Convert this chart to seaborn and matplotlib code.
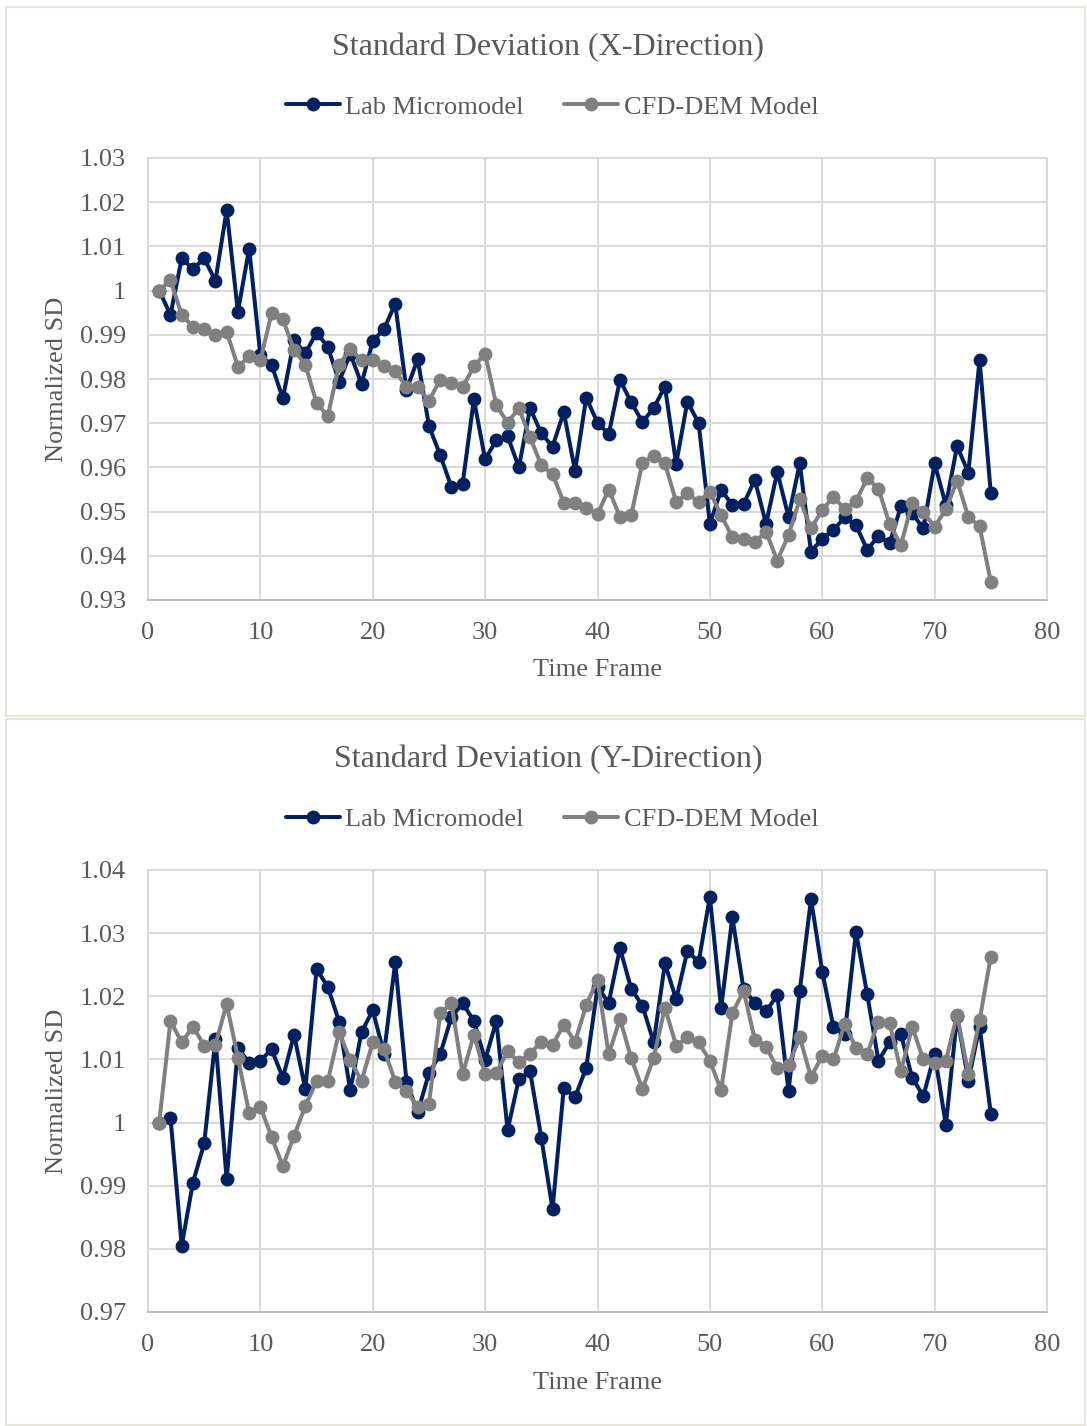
import numpy as np
import pandas as pd
import matplotlib
matplotlib.use("Agg")
import matplotlib.pyplot as plt
from matplotlib.patches import Rectangle
from matplotlib.ticker import FuncFormatter, MultipleLocator
import seaborn as sns

# ---------------- data ----------------
frames = list(range(1, 76))

lab_x = [1.0000, 0.9945, 1.0073, 1.0049, 1.0073, 1.0022, 1.0182, 0.9952, 1.0095, 0.9854,
         0.9832, 0.9756, 0.9888, 0.9858, 0.9905, 0.9873, 0.9794, 0.9857, 0.9789, 0.9886,
         0.9913, 0.9970, 0.9775, 0.9845, 0.9694, 0.9628, 0.9556, 0.9563, 0.9754, 0.9618,
         0.9662, 0.9671, 0.9600, 0.9734, 0.9677, 0.9647, 0.9725, 0.9592, 0.9758, 0.9701,
         0.9675, 0.9798, 0.9747, 0.9703, 0.9734, 0.9783, 0.9608, 0.9749, 0.9700, 0.9472,
         0.9549, 0.9515, 0.9517, 0.9572, 0.9472, 0.9590, 0.9488, 0.9609, 0.9409, 0.9439,
         0.9458, 0.9488, 0.9469, 0.9414, 0.9444, 0.9429, 0.9512, 0.9496, 0.9462, 0.9609,
         0.9515, 0.9648, 0.9588, 0.9843, 0.9541]

cfd_x = [1.0000, 1.0024, 0.9945, 0.9918, 0.9913, 0.9900, 0.9907, 0.9828, 0.9851, 0.9842,
         0.9949, 0.9935, 0.9866, 0.9832, 0.9746, 0.9716, 0.9832, 0.9867, 0.9842, 0.9843,
         0.9829, 0.9817, 0.9783, 0.9781, 0.9751, 0.9798, 0.9792, 0.9781, 0.9829, 0.9857,
         0.9741, 0.9701, 0.9734, 0.9668, 0.9605, 0.9585, 0.9520, 0.9519, 0.9509, 0.9494,
         0.9550, 0.9488, 0.9492, 0.9611, 0.9626, 0.9609, 0.9522, 0.9541, 0.9522, 0.9545,
         0.9492, 0.9442, 0.9438, 0.9432, 0.9454, 0.9389, 0.9447, 0.9528, 0.9462, 0.9503,
         0.9534, 0.9505, 0.9524, 0.9575, 0.9552, 0.9471, 0.9424, 0.9520, 0.9498, 0.9466,
         0.9505, 0.9570, 0.9488, 0.9467, 0.9341]

lab_y = [1.0000, 1.0008, 0.9805, 0.9905, 0.9967, 1.0132, 0.9910, 1.0118, 1.0095, 1.0098,
         1.0116, 1.0071, 1.0139, 1.0053, 1.0243, 1.0215, 1.0160, 1.0051, 1.0143, 1.0178,
         1.0109, 1.0254, 1.0065, 1.0016, 1.0078, 1.0108, 1.0167, 1.0189, 1.0161, 1.0099,
         1.0161, 0.9988, 1.0069, 1.0081, 0.9976, 0.9863, 1.0055, 1.0040, 1.0087, 1.0214,
         1.0190, 1.0276, 1.0212, 1.0185, 1.0127, 1.0252, 1.0195, 1.0272, 1.0254, 1.0358,
         1.0181, 1.0325, 1.0211, 1.0190, 1.0176, 1.0202, 1.0050, 1.0209, 1.0354, 1.0239,
         1.0151, 1.0140, 1.0302, 1.0203, 1.0098, 1.0127, 1.0140, 1.0071, 1.0042, 1.0109,
         0.9996, 1.0169, 1.0066, 1.0152, 1.0014]

cfd_y = [1.0000, 1.0161, 1.0127, 1.0152, 1.0122, 1.0123, 1.0188, 1.0103, 1.0015, 1.0025,
         0.9977, 0.9931, 0.9979, 1.0026, 1.0066, 1.0066, 1.0143, 1.0099, 1.0066, 1.0127,
         1.0116, 1.0065, 1.0050, 1.0025, 1.0029, 1.0173, 1.0189, 1.0077, 1.0139, 1.0077,
         1.0079, 1.0113, 1.0096, 1.0109, 1.0128, 1.0123, 1.0155, 1.0128, 1.0186, 1.0226,
         1.0108, 1.0164, 1.0102, 1.0053, 1.0103, 1.0182, 1.0122, 1.0135, 1.0127, 1.0098,
         1.0051, 1.0173, 1.0209, 1.0131, 1.0120, 1.0086, 1.0091, 1.0135, 1.0072, 1.0106,
         1.0100, 1.0156, 1.0118, 1.0109, 1.0160, 1.0157, 1.0081, 1.0151, 1.0100, 1.0094,
         1.0098, 1.0171, 1.0077, 1.0162, 1.0263]

series_names = ["Lab Micromodel", "CFD-DEM Model"]
titles = ["Standard Deviation (X-Direction)", "Standard Deviation (Y-Direction)"]
x_label = "Time Frame"
y_label = "Normalized SD"
y_limits = [(0.93, 1.03), (0.97, 1.04)]
x_limits = (0, 80)

# ---------------- style ----------------
sns.set_theme(style="white")
plt.rcParams["font.family"] = ["Liberation Serif", "DejaVu Serif"]
TXT = "#595959"
GRID = "#d9d9d9"
palette = {"Lab Micromodel": "#002060", "CFD-DEM Model": "#808080"}
FS = 19
FS_TITLE = 23

W, H = 1087, 1426
fig = plt.figure(figsize=(W / 100, H / 100), dpi=100)

# panel frames
for (y0, y1) in [(7, 716), (719, 1425)]:
    fig.patches.append(Rectangle((6 / W, 1 - y1 / H), (W - 8) / W, (y1 - y0) / H,
                                 transform=fig.transFigure, fill=False,
                                 edgecolor="#e6e6dc", linewidth=1.5, zorder=0))

panels = [
    dict(lab=lab_x, cfd=cfd_x, top=158, bottom=600, title_y=48, leg_y=107, xlab_y=670),
    dict(lab=lab_y, cfd=cfd_y, top=870, bottom=1312, title_y=760, leg_y=819, xlab_y=1383),
]
left_px, right_px = 148, 1047

for i, p in enumerate(panels):
    ax = fig.add_axes([left_px / W, 1 - p["bottom"] / H,
                       (right_px - left_px) / W, (p["bottom"] - p["top"]) / H])
    df = pd.DataFrame({
        "frame": frames * 2,
        "value": p["lab"] + p["cfd"],
        "series": [series_names[0]] * len(frames) + [series_names[1]] * len(frames),
    })
    sns.lineplot(data=df, x="frame", y="value", hue="series", hue_order=series_names,
                 palette=palette, marker="o", markersize=10, markeredgewidth=0,
                 linewidth=2.9, ax=ax, legend=True, zorder=3)
    ax.set_xlim(*x_limits)
    ax.set_ylim(*y_limits[i])
    ax.xaxis.set_major_locator(MultipleLocator(10))
    ax.yaxis.set_major_locator(MultipleLocator(0.01))
    ax.yaxis.set_major_formatter(FuncFormatter(lambda v, pos: f"{round(v, 4):g}"))
    ax.grid(True, color=GRID, linewidth=1.4, zorder=0)
    ax.set_axisbelow(True)
    for s in ax.spines.values():
        s.set_color(GRID)
        s.set_linewidth(1.4)
    ax.spines["bottom"].set_color("#bfbfbf")
    ax.tick_params(axis="both", length=0, labelsize=FS, labelcolor=TXT)
    ax.tick_params(axis="y", pad=16)
    ax.tick_params(axis="x", pad=16)
    ax.set_xlabel(x_label, fontsize=FS, color=TXT)
    ax.set_ylabel(y_label, fontsize=FS, color=TXT)
    ax.xaxis.label.set_va("center")
    ax.yaxis.label.set_va("center")
    ax.xaxis.set_label_coords(0.5, (p["bottom"] - p["xlab_y"]) / (p["bottom"] - p["top"]))
    ax.yaxis.set_label_coords((57 - left_px) / (right_px - left_px), 0.5)

    handles, labels = ax.get_legend_handles_labels()
    ax.get_legend().remove()
    fig.legend(handles, labels, loc="center", ncol=2, frameon=False,
               bbox_to_anchor=(552 / W, 1 - p["leg_y"] / H),
               fontsize=FS, labelcolor=TXT, handlelength=2.05, handletextpad=0.2,
               columnspacing=1.55, markerscale=1.0)
    fig.text(548 / W, 1 - p["title_y"] / H, titles[i], ha="center", va="center",
             fontsize=FS_TITLE, color=TXT)

fig.savefig("out.png", dpi=100, facecolor="white")
